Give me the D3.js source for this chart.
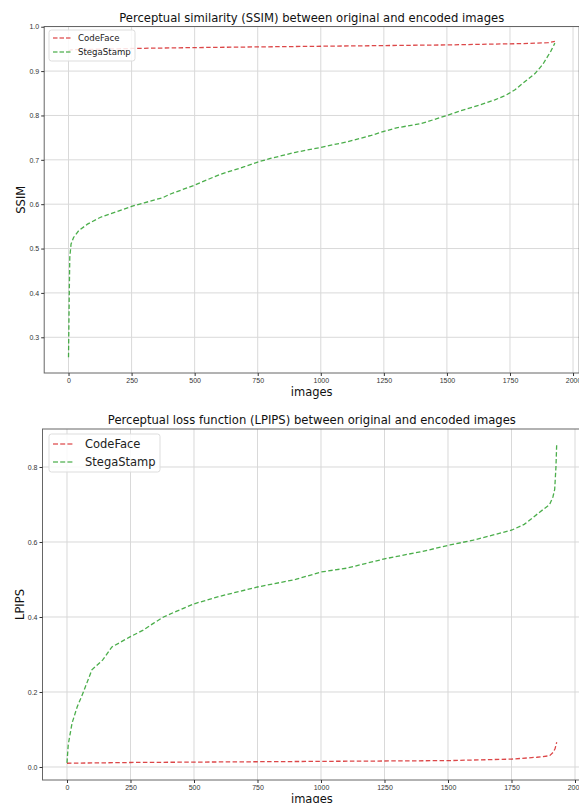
<!DOCTYPE html>
<html>
<head>
<meta charset="utf-8">
<style>
  body { margin: 0; background: #fff; }
  svg { display: block; font-family: "DejaVu Sans", sans-serif; }
  .tick text { font-size: 7px; fill: #333; }
  .tick line { stroke: #333; }
  .domain { display: none; }
  .grid line { stroke: #d9d9d9; stroke-width: 1; }
  .title { font-size: 11.6px; fill: #111; text-anchor: middle; }
  .axlabel { font-size: 11.5px; fill: #111; text-anchor: middle; }
  .line { fill: none; stroke-width: 1.3; stroke-dasharray: 4.5,2.4; }
</style>
</head>
<body>
<script src="https://d3js.org/d3.v7.min.js"></script>
<script>
// image index (sorted), one array per series
var ssimFaceIdx = [0, 10, 250, 500, 1000, 1500, 1800, 1900, 1928];
var ssimFace    = [0.945, 0.948, 0.951, 0.953, 0.956, 0.959, 0.962, 0.964, 0.967];
var ssimStegaIdx = [0, 3, 5, 10, 20, 40, 75, 125, 200, 250, 300, 375, 400, 500, 600, 700, 750, 800, 900, 1000, 1100, 1200, 1250, 1300, 1400, 1500, 1563, 1632, 1690, 1735, 1770, 1800, 1850, 1880, 1912, 1928];
var ssimStega    = [0.255, 0.40, 0.48, 0.51, 0.525, 0.54, 0.555, 0.57, 0.585, 0.595, 0.603, 0.615, 0.622, 0.643, 0.667, 0.685, 0.695, 0.703, 0.717, 0.728, 0.740, 0.755, 0.764, 0.772, 0.782, 0.800, 0.812, 0.824, 0.835, 0.846, 0.858, 0.872, 0.895, 0.915, 0.945, 0.963];

var lpipsFaceIdx = [0, 250, 500, 1000, 1500, 1750, 1850, 1900, 1915, 1922, 1928];
var lpipsFace    = [0.010, 0.012, 0.013, 0.015, 0.017, 0.021, 0.026, 0.030, 0.040, 0.050, 0.066];
var lpipsStegaIdx = [0, 5, 20, 40, 63, 98, 140, 177, 248, 300, 340, 380, 430, 500, 600, 750, 900, 1000, 1100, 1250, 1400, 1508, 1600, 1752, 1800, 1862, 1900, 1913, 1920, 1925, 1928];
var lpipsStega    = [0.011, 0.06, 0.117, 0.16, 0.197, 0.259, 0.285, 0.32, 0.347, 0.365, 0.383, 0.40, 0.415, 0.435, 0.455, 0.48, 0.50, 0.52, 0.53, 0.555, 0.575, 0.592, 0.605, 0.632, 0.647, 0.68, 0.70, 0.72, 0.74, 0.80, 0.862];

var xTicks = [0, 250, 500, 750, 1000, 1250, 1500, 1750, 2000];
var ssimTicks = [0.3, 0.4, 0.5, 0.6, 0.7, 0.8, 0.9, 1.0];
var lpipsTicks = [0.0, 0.2, 0.4, 0.6, 0.8];
var seriesNames = ["CodeFace", "StegaStamp"];
var colors = ["#d62728", "#2ca02c"];

var svg = d3.select("body").append("svg")
    .attr("width", 579)
    .attr("height", 803);

function zip(xs, ys) { return xs.map(function(v, i) { return [v, ys[i]]; }); }

function panel(opt) {
  var x = d3.scaleLinear().domain([-96.4, 2024.4]).range([opt.left, opt.right]);
  var y = d3.scaleLinear().domain(opt.yDomain).range([opt.bottom, opt.top]);
  var g = svg.append("g");

  // grid
  g.append("g").attr("class", "grid").selectAll("line").data(xTicks).join("line")
    .attr("x1", function(d) { return x(d); }).attr("x2", function(d) { return x(d); })
    .attr("y1", opt.top).attr("y2", opt.bottom);
  g.append("g").attr("class", "grid").selectAll("line").data(opt.yTicks).join("line")
    .attr("y1", function(d) { return y(d); }).attr("y2", function(d) { return y(d); })
    .attr("x1", opt.left).attr("x2", opt.right);

  // frame
  g.append("rect")
    .attr("x", opt.left).attr("y", opt.top)
    .attr("width", opt.right - opt.left).attr("height", opt.bottom - opt.top)
    .attr("fill", "none").attr("stroke", "#666").attr("stroke-width", 1);

  g.append("g").attr("transform", "translate(0," + opt.bottom + ")")
    .call(d3.axisBottom(x).tickValues(xTicks).tickSize(3).tickPadding(2).tickFormat(d3.format("d")));
  g.append("g").attr("transform", "translate(" + opt.left + ",0)")
    .call(d3.axisLeft(y).tickValues(opt.yTicks).tickSize(3).tickPadding(2).tickFormat(d3.format(".1f")));

  var line = d3.line().x(function(d) { return x(d[0]); }).y(function(d) { return y(d[1]); });
  opt.series.forEach(function(s, i) {
    g.append("path").datum(s).attr("class", "line")
      .attr("stroke", colors[i]).attr("stroke-opacity", 0.85)
      .attr("d", line);
  });

  g.append("text").attr("class", "title")
    .attr("x", (opt.left + opt.right) / 2).attr("y", opt.top - 5)
    .text(opt.title);
  g.append("text").attr("class", "axlabel")
    .attr("x", (opt.left + opt.right) / 2).attr("y", opt.bottom + 23)
    .text("images");
  g.append("text").attr("class", "axlabel")
    .attr("transform", "translate(" + (opt.left - 19) + "," + ((opt.top + opt.bottom) / 2) + ") rotate(-90)")
    .text(opt.yLabel);

  // legend
  var L = opt.legend;
  var lg = g.append("g").attr("transform", "translate(" + L.x + "," + L.y + ")");
  lg.append("rect").attr("width", L.w).attr("height", L.h).attr("rx", 2.5)
    .attr("fill", "#fff").attr("fill-opacity", 0.85).attr("stroke", "#ddd");
  seriesNames.forEach(function(n, i) {
    var cy = L.pad + i * L.step;
    lg.append("line").attr("x1", 4).attr("x2", 4 + L.len).attr("y1", cy).attr("y2", cy)
      .attr("stroke", colors[i]).attr("stroke-opacity", 0.7)
      .attr("stroke-width", 1.3).attr("stroke-dasharray", L.dash);
    lg.append("text").attr("x", L.tx).attr("y", cy).attr("dy", "0.35em")
      .attr("font-size", L.fs).attr("fill", "#222").text(n);
  });
}

panel({
  left: 44.2, right: 579.2, top: 26.5, bottom: 373,
  yDomain: [0.2195, 1.0005], yTicks: ssimTicks,
  series: [zip(ssimFaceIdx, ssimFace), zip(ssimStegaIdx, ssimStega)],
  title: "Perceptual similarity (SSIM) between original and encoded images",
  yLabel: "SSIM",
  legend: { x: 49, y: 30, w: 86, h: 31, pad: 8, step: 14, len: 18, tx: 29, fs: 8.6, dash: "4.5,2" }
});

panel({
  left: 42.5, right: 581.2, top: 429, bottom: 780,
  yDomain: [-0.0347, 0.9013], yTicks: lpipsTicks,
  series: [zip(lpipsFaceIdx, lpipsFace), zip(lpipsStegaIdx, lpipsStega)],
  title: "Perceptual loss function (LPIPS) between original and encoded images",
  yLabel: "LPIPS",
  legend: { x: 49, y: 434, w: 111, h: 38, pad: 10, step: 18, len: 21, tx: 36, fs: 11.5, dash: "5,2.2" }
});
</script>
</body>
</html>
